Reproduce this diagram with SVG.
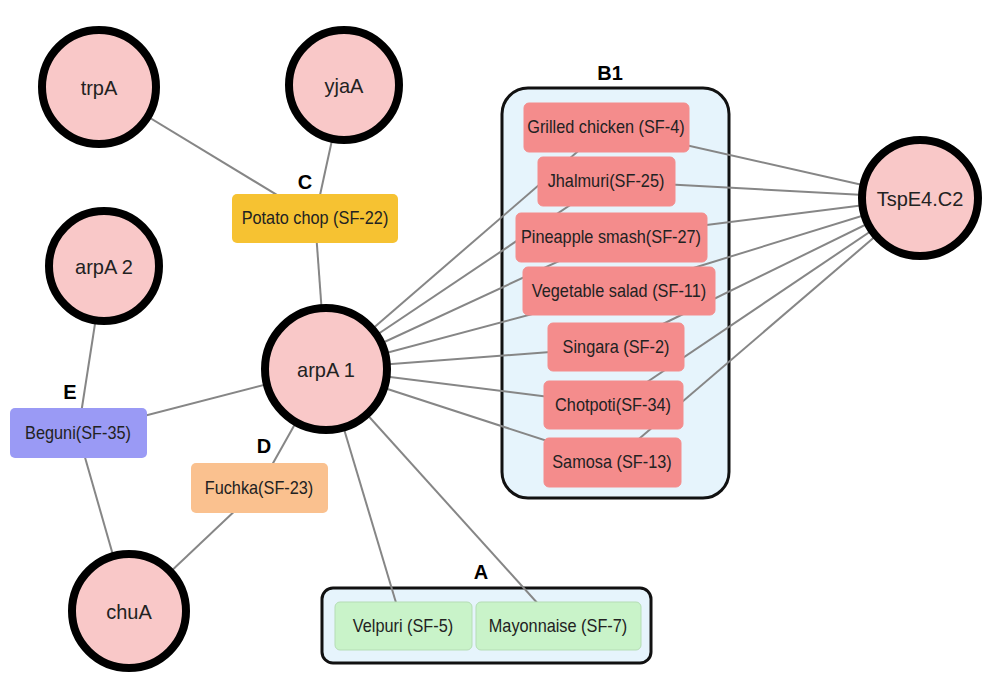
<svg xmlns="http://www.w3.org/2000/svg" width="985" height="677" viewBox="0 0 985 677">
<defs>
<style>
.bg{fill:#ffffff}
.grp{fill:#E6F4FC;stroke:#111;stroke-width:3}
.edge{stroke:#868686;stroke-width:2;fill:none}
.circ{fill:#F9C8C8;stroke:#000;stroke-width:8}
.red{fill:#F48C8C;stroke:#F48C8C;stroke-width:1}
.yel{fill:#F6C232}
.blu{fill:#9A9AF5}
.org{fill:#FAC18F}
.grn{fill:#C9F3C9;stroke:#B5DDB5;stroke-width:1}
text{font-family:"Liberation Sans",Arial,sans-serif;fill:#222;text-anchor:middle;dominant-baseline:central}
.cl{font-size:20px;transform-box:fill-box;transform-origin:center;transform:scale(1,1.05)}
.nl{font-size:16.3px;transform-box:fill-box;transform-origin:center;transform:scale(1,1.15)}
.gl{font-size:20px;font-weight:bold;fill:#000}
</style>
</defs>
<rect class="bg" x="0" y="0" width="985" height="677"/>
<g id="groupB1"><rect class="grp" x="502" y="88" width="227" height="410" rx="26"/><text class="gl" x="610" y="73">B1</text></g>
<g id="groupA"><rect class="grp" x="322" y="588" width="329" height="75" rx="11"/><text class="gl" x="481" y="572">A</text></g>
<g id="edges">
<line class="edge" x1="99" y1="87" x2="315" y2="218"/>
<line class="edge" x1="344" y1="85" x2="315" y2="218"/>
<line class="edge" x1="315" y1="218" x2="326" y2="369"/>
<line class="edge" x1="104" y1="266" x2="78" y2="433"/>
<line class="edge" x1="78" y1="433" x2="326" y2="369"/>
<line class="edge" x1="78" y1="433" x2="129" y2="611"/>
<line class="edge" x1="326" y1="369" x2="259" y2="488"/>
<line class="edge" x1="259" y1="488" x2="129" y2="611"/>
<line class="edge" x1="326" y1="369" x2="403" y2="626"/>
<line class="edge" x1="326" y1="369" x2="558" y2="626"/>
<line class="edge" x1="326" y1="369" x2="606" y2="127"/>
<line class="edge" x1="326" y1="369" x2="606" y2="181"/>
<line class="edge" x1="326" y1="369" x2="611" y2="237"/>
<line class="edge" x1="326" y1="369" x2="619" y2="291"/>
<line class="edge" x1="326" y1="369" x2="616" y2="347"/>
<line class="edge" x1="326" y1="369" x2="613" y2="405"/>
<line class="edge" x1="326" y1="369" x2="612" y2="462"/>
<line class="edge" x1="920" y1="198" x2="606" y2="127"/>
<line class="edge" x1="920" y1="198" x2="606" y2="181"/>
<line class="edge" x1="920" y1="198" x2="611" y2="237"/>
<line class="edge" x1="920" y1="198" x2="619" y2="291"/>
<line class="edge" x1="920" y1="198" x2="616" y2="347"/>
<line class="edge" x1="920" y1="198" x2="613" y2="405"/>
<line class="edge" x1="920" y1="198" x2="612" y2="462"/>
</g>
<g id="trpA"><circle class="circ" cx="99" cy="87" r="57"/><text class="cl" x="99" y="87">trpA</text></g>
<g id="yjaA"><circle class="circ" cx="344" cy="85" r="55"/><text class="cl" x="344" y="85">yjaA</text></g>
<g id="arpA2"><circle class="circ" cx="104" cy="266" r="55"/><text class="cl" x="104" y="266">arpA 2</text></g>
<g id="arpA1"><circle class="circ" cx="326" cy="369" r="61"/><text class="cl" x="326" y="369">arpA 1</text></g>
<g id="chuA"><circle class="circ" cx="129" cy="611" r="57"/><text class="cl" x="129" y="611">chuA</text></g>
<g id="TspE4C2"><circle class="circ" cx="920" cy="198" r="58"/><text class="cl" x="920" y="198">TspE4.C2</text></g>
<g id="potato"><rect class="yel" x="232" y="194" width="166" height="49" rx="5"/><text class="nl" x="315" y="218">Potato chop (SF-22)</text><text class="gl" x="305" y="182">C</text></g>
<g id="beguni"><rect class="blu" x="10" y="408" width="137" height="50" rx="5"/><text class="nl" x="78" y="433">Beguni(SF-35)</text><text class="gl" x="70" y="392">E</text></g>
<g id="fuchka"><rect class="org" x="191" y="463" width="137" height="50" rx="5"/><text class="nl" x="259" y="488">Fuchka(SF-23)</text><text class="gl" x="264" y="446">D</text></g>
<g id="velpuri"><rect class="grn" x="335" y="602" width="137" height="48" rx="5"/><text class="nl" x="403" y="626">Velpuri (SF-5)</text></g>
<g id="mayonnaise"><rect class="grn" x="476" y="602" width="165" height="48" rx="5"/><text class="nl" x="558" y="626">Mayonnaise (SF-7)</text></g>
<g id="grilled"><rect class="red" x="524" y="103" width="165" height="49" rx="5"/><text class="nl" x="606" y="127">Grilled chicken (SF-4)</text></g>
<g id="jhalmuri"><rect class="red" x="538" y="157" width="137" height="49" rx="5"/><text class="nl" x="606" y="181">Jhalmuri(SF-25)</text></g>
<g id="pineapple"><rect class="red" x="516" y="213" width="191" height="49" rx="5"/><text class="nl" x="611" y="237">Pineapple smash(SF-27)</text></g>
<g id="vegetable"><rect class="red" x="523" y="267" width="192" height="48" rx="5"/><text class="nl" x="619" y="291">Vegetable salad (SF-11)</text></g>
<g id="singara"><rect class="red" x="548" y="323" width="136" height="48" rx="5"/><text class="nl" x="616" y="347">Singara (SF-2)</text></g>
<g id="chotpoti"><rect class="red" x="544" y="381" width="139" height="48" rx="5"/><text class="nl" x="613" y="405">Chotpoti(SF-34)</text></g>
<g id="samosa"><rect class="red" x="544" y="438" width="137" height="49" rx="5"/><text class="nl" x="612" y="462">Samosa (SF-13)</text></g>
</svg>
